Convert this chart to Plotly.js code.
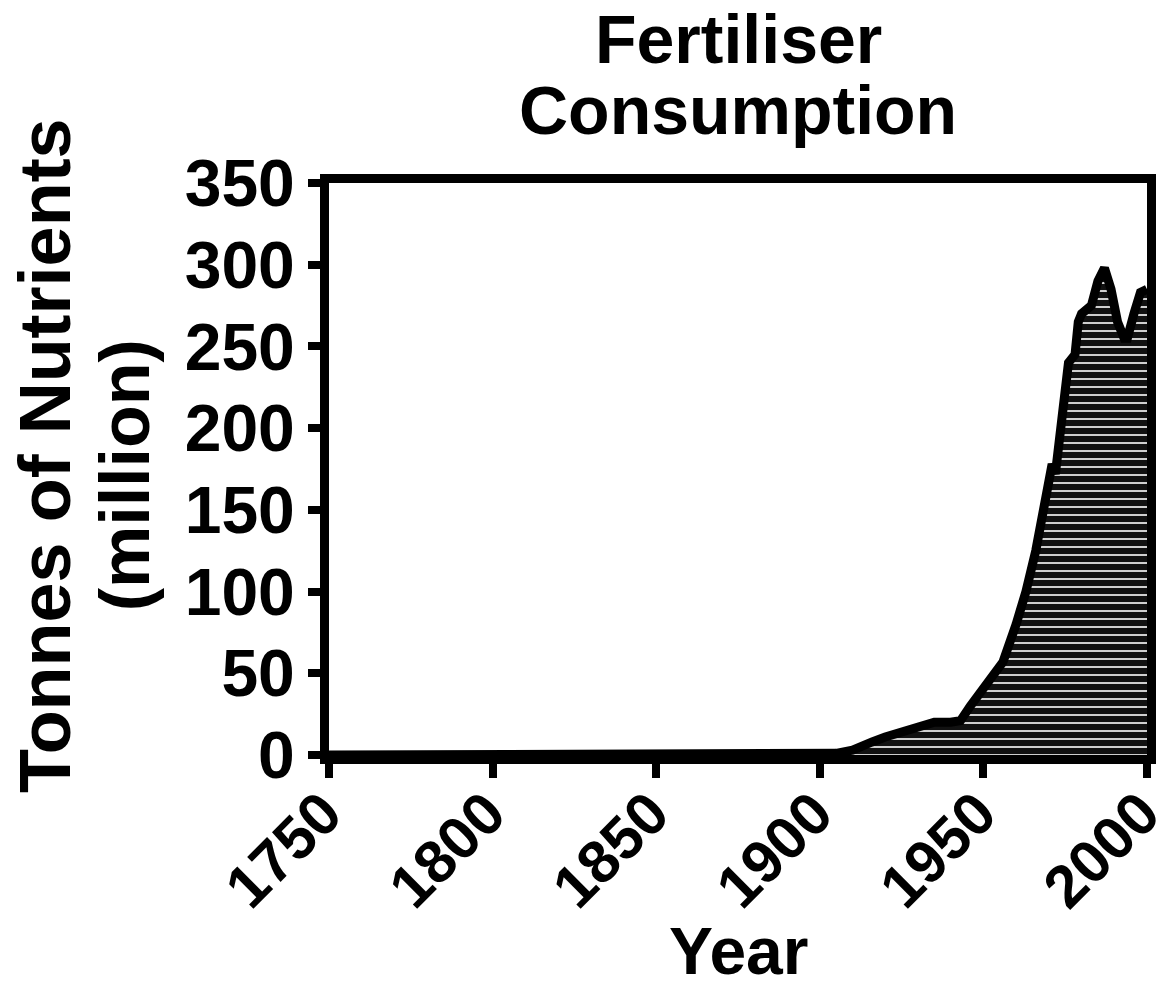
<!DOCTYPE html>
<html>
<head>
<meta charset="utf-8">
<script src="https://cdn.plot.ly/plotly-3.0.1.min.js"></script>
<style>html,body{margin:0;padding:0;background:#fff;}#chart{width:1171px;height:991px;}</style>
</head>
<body>
<div id="chart"></div>
<script>
const years  = [1750, 1800, 1850, 1900, 1905, 1910, 1913, 1916, 1920, 1925, 1928, 1931, 1935, 1940, 1943, 1946, 1950, 1953, 1956, 1960, 1963, 1966, 1969, 1971, 1972, 1973, 1975, 1976, 1978, 1979, 1980, 1983, 1985, 1987, 1989, 1991, 1993, 1994, 1996, 1998, 2000];
const tonnes = [0, 0, 0, 0.5, 1, 3, 6, 8, 11, 14, 16, 19, 20, 20, 21, 30, 40, 48, 57, 80, 100, 125, 155, 178, 172, 190, 225, 240, 245, 265, 270, 275, 290, 298, 285, 265, 255, 255, 270, 283, 285];
const xTicks = [1750, 1800, 1850, 1900, 1950, 2000];
const yTicks = [0, 50, 100, 150, 200, 250, 300, 350];
const titleLines = ['Fertiliser', 'Consumption'];
const yTitleLines = ['Tonnes of Nutrients', '(million)'];
const xTitle = 'Year';

const fontFam = '"Liberation Sans", Arial, sans-serif';
const bold = (size) => ({family: fontFam, size: size, color: '#000', weight: 'bold'});

const trace = {
  x: years, y: tonnes, type: 'scatter', mode: 'lines',
  fill: 'tozeroy',
  fillcolor: '#111',
  fillpattern: {shape: '-', fgcolor: '#ffffff', bgcolor: '#111111', size: 8, solidity: 0.2},
  line: {color: '#000', width: 9, shape: 'linear'},
  hoverinfo: 'skip'
};

const layout = {
  width: 1171, height: 991,
  margin: {l: 329, r: 24, t: 183, b: 236},
  paper_bgcolor: '#fff', plot_bgcolor: '#fff',
  showlegend: false,
  xaxis: {
    range: [1750, 2000], tickvals: xTicks, ticktext: xTicks.map(String),
    tickangle: -45, ticks: 'outside', ticklen: 14, tickwidth: 8, tickcolor: '#000',
    showline: true, linewidth: 9, linecolor: '#000', mirror: true,
    showgrid: false, zeroline: false,
    ticklabeloverflow: 'allow', ticklabelshift: -5, ticklabelstandoff: -24,
    tickfont: bold(60)
  },
  yaxis: {
    range: [0, 350], tickvals: yTicks, ticktext: yTicks.map(String),
    ticks: 'outside', ticklen: 12, tickwidth: 8, tickcolor: '#000',
    showline: true, linewidth: 9, linecolor: '#000', mirror: true,
    showgrid: false, zeroline: false,
    tickfont: bold(66)
  },
  annotations: [
    {text: titleLines[0], xref: 'paper', yref: 'paper', x: 0.5, y: 1.252, xanchor: 'center', yanchor: 'middle', showarrow: false, font: bold(68)},
    {text: titleLines[1], xref: 'paper', yref: 'paper', x: 0.5, y: 1.127, xanchor: 'center', yanchor: 'middle', showarrow: false, font: bold(68)},
    {text: yTitleLines[0], xref: 'paper', yref: 'paper', x: -0.347, y: 0.523, xanchor: 'center', yanchor: 'middle', textangle: -90, showarrow: false, font: bold(72)},
    {text: yTitleLines[1], xref: 'paper', yref: 'paper', x: -0.249, y: 0.4895, xanchor: 'center', yanchor: 'middle', textangle: -90, showarrow: false, font: bold(70)},
    {text: xTitle, xref: 'paper', yref: 'paper', x: 0.5, y: -0.342, xanchor: 'center', yanchor: 'middle', showarrow: false, font: bold(66)}
  ]
};

Plotly.newPlot('chart', [trace], layout, {displayModeBar: false, staticPlot: true});
</script>
</body>
</html>
